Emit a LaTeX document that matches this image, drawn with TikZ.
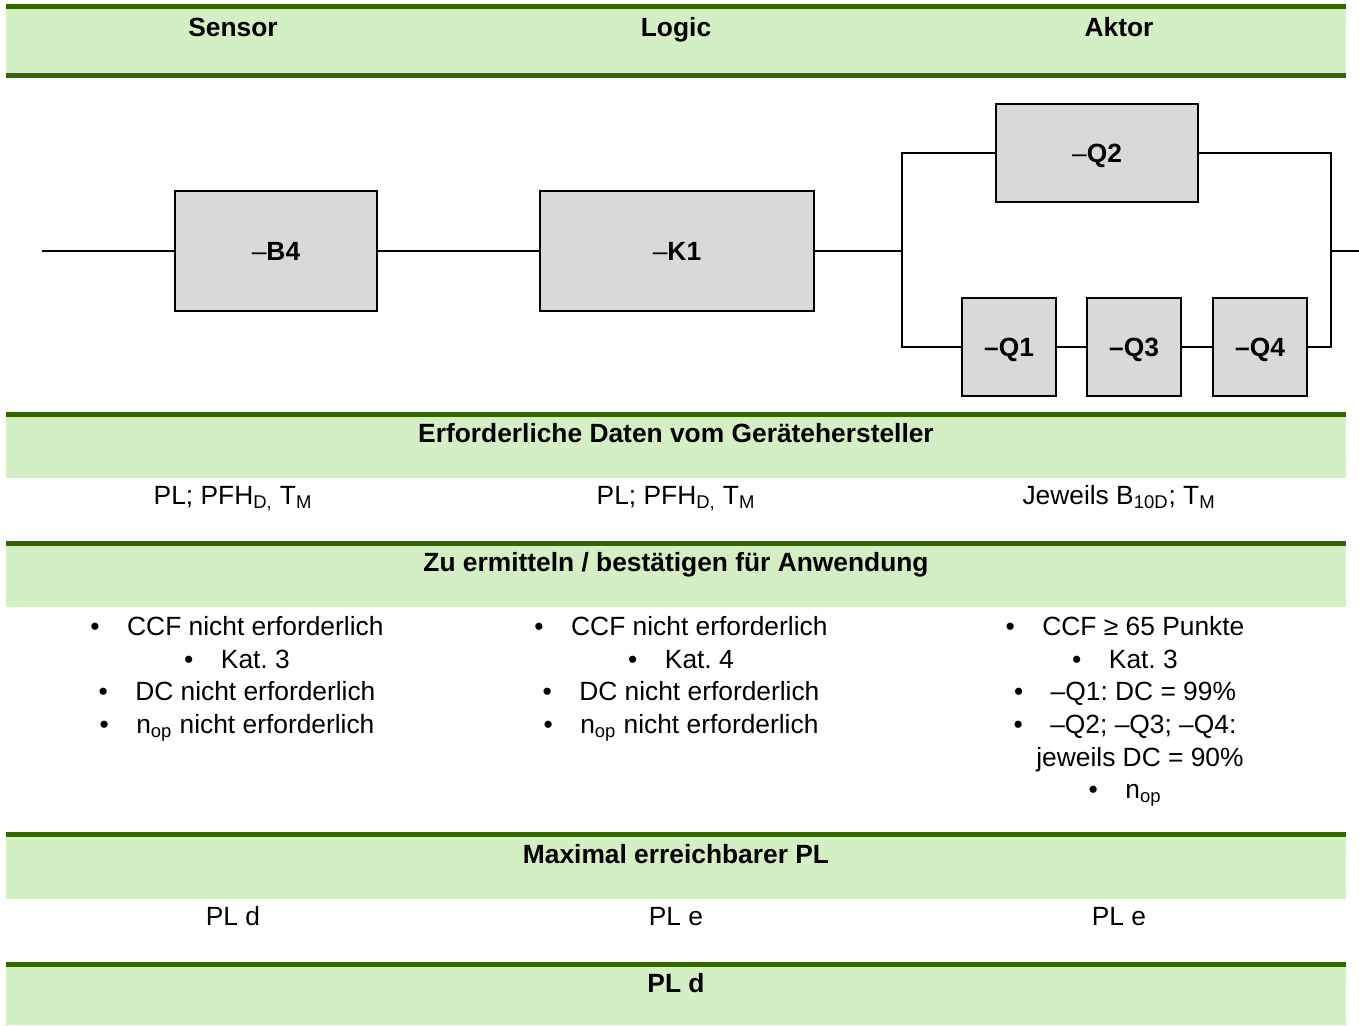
\documentclass[tikz,border=0pt]{standalone}
\usepackage{fontspec}
\setmainfont{Liberation Sans}
\frenchspacing
\definecolor{bandgreen}{RGB}{212,239,196}
\definecolor{bandline}{RGB}{51,102,0}
\definecolor{blkgray}{RGB}{217,217,217}

\begin{document}
\begin{tikzpicture}[x=0.02cm, y=-0.02cm,
  every node/.style={inner sep=0pt, font=\fontsize{15}{18.6}\selectfont},
  blk/.style={draw, fill=blkgray, line width=1.3pt, text height=10.7pt, text depth=0pt,
    font=\fontsize{15}{18}\selectfont\bfseries},
  hd/.style={anchor=base, font=\fontsize{15}{18}\selectfont\bfseries},
  row/.style={anchor=base},
  lst/.style={anchor=north, align=center}]
  \useasboundingbox (0,0) rectangle (1359,1025);

  % green header bands
  \foreach \t/\b in {9/73, 417/478, 546/607, 837/899, 967/1025} {
    \fill [bandgreen] (6,\t) rectangle (1346,\b);
    \draw [bandline, line width=2.9pt] (6,\t-2.5) -- (1346,\t-2.5);
  }
  \draw [bandline, line width=2.9pt] (6,75.5) -- (1346,75.5);

  \node [hd] (sensor) at (233,36.5) {Sensor};
  \node [hd] (logic) at (676,36.5) {Logic};
  \node [hd] (aktor) at (1119,36.5) {Aktor};

  % block diagram
  \node [blk, minimum width=4.04cm, minimum height=2.4cm] (B4) at (276,251) {\textmd{–}B4};
  \node [blk, minimum width=5.48cm, minimum height=2.4cm] (K1) at (677,251) {\textmd{–}K1};
  \node [blk, minimum width=4.04cm, minimum height=1.96cm] (Q2) at (1097,153) {\textmd{–}Q2};
  \node [blk, minimum width=1.88cm, minimum height=1.96cm] (Q1) at (1009,347) {–Q1};
  \node [blk, minimum width=1.88cm, minimum height=1.96cm] (Q3) at (1134,347) {–Q3};
  \node [blk, minimum width=1.88cm, minimum height=1.96cm] (Q4) at (1260,347) {–Q4};
  \coordinate (in) at (42,251);
  \coordinate (jl) at (902,251);
  \coordinate (jr) at (1331,251);
  \coordinate (out) at (1359,251);
  \draw [line width=0.9pt] (in) -- (B4) -- (K1) -- (jl);
  \draw [line width=0.9pt] (jl) |- (Q2);
  \draw [line width=0.9pt] (Q2) -| (jr) -- (out);
  \draw [line width=0.9pt] (jl) |- (Q1);
  \draw [line width=0.9pt] (Q1) -- (Q3) -- (Q4);
  \draw [line width=0.9pt] (Q4) -| (jr);

  \node [hd] (daten) at (676,442.5) {Erforderliche Daten vom Gerätehersteller};
  \node [row] (d1) at (233,504.5) {PL; PFH\textsubscript{D,} T\textsubscript{M}};
  \node [row] (d2) at (676,504.5) {PL; PFH\textsubscript{D,} T\textsubscript{M}};
  \node [row] (d3) at (1119,504.5) {Jeweils B\textsubscript{10D}; T\textsubscript{M}};

  \node [hd] (ermitteln) at (676,571.5) {Zu ermitteln / bestätigen für Anwendung};
  \node [lst] (e1) at (237,616) {\textbullet\hspace{0.55cm}CCF nicht erforderlich\\
    \textbullet\hspace{0.55cm}Kat. 3\\
    \textbullet\hspace{0.55cm}DC nicht erforderlich\\
    \textbullet\hspace{0.55cm}n\textsubscript{op} nicht erforderlich};
  \node [lst] (e2) at (681,616) {\textbullet\hspace{0.55cm}CCF nicht erforderlich\\
    \textbullet\hspace{0.55cm}Kat. 4\\
    \textbullet\hspace{0.55cm}DC nicht erforderlich\\
    \textbullet\hspace{0.55cm}n\textsubscript{op} nicht erforderlich};
  \node [lst] (e3) at (1125,616) {\textbullet\hspace{0.55cm}CCF ≥ 65 Punkte\\
    \textbullet\hspace{0.55cm}Kat. 3\\
    \textbullet\hspace{0.55cm}–Q1: DC = 99\%\\
    \textbullet\hspace{0.55cm}–Q2; –Q3; –Q4:\\
    \hspace*{0.6cm}jeweils DC = 90\%\\
    \textbullet\hspace{0.55cm}n\textsubscript{op}};

  \node [hd] (maxpl) at (676,863.5) {Maximal erreichbarer PL};
  \node [row] (p1) at (233,925.5) {PL d};
  \node [row] (p2) at (676,925.5) {PL e};
  \node [row] (p3) at (1119,925.5) {PL e};

  \node [hd] (gesamt) at (676,992.5) {PL d};
\end{tikzpicture}
\end{document}
